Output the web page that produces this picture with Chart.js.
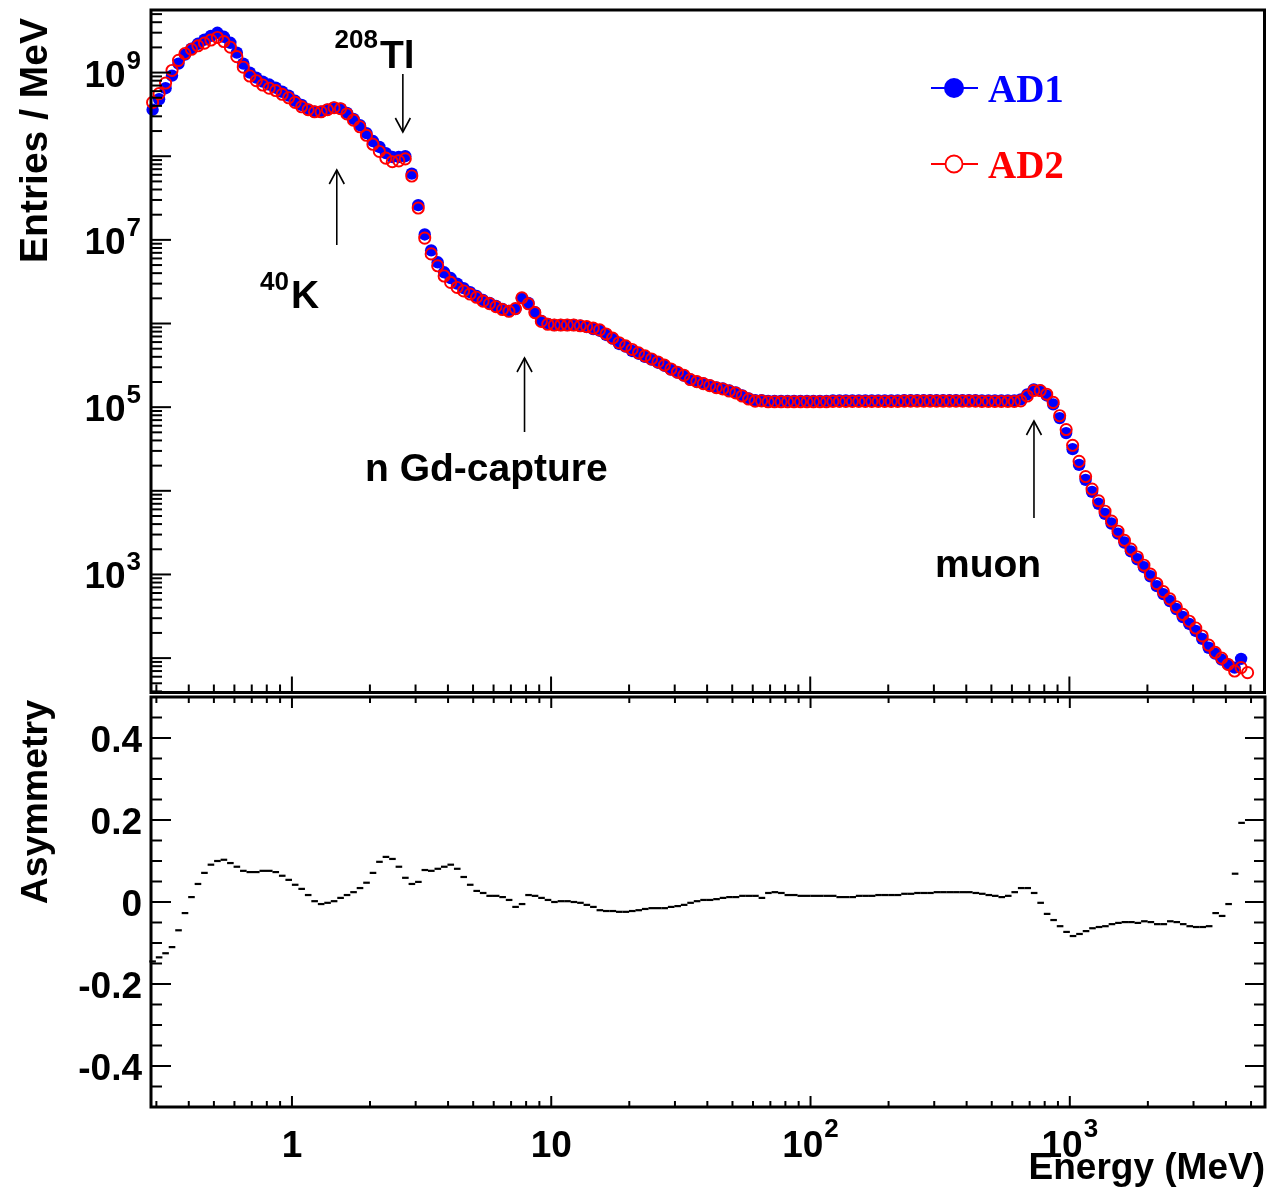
<!DOCTYPE html>
<html>
<head>
<meta charset="utf-8">
<script src="https://cdn.jsdelivr.net/npm/chart.js@4/dist/chart.umd.min.js"></script>
<style>
  body { margin: 0; background: #fff; }
  #wrap { position: relative; width: 1272px; height: 1190px; }
  canvas { position: absolute; left: 0; }
</style>
</head>
<body>
<div id="wrap">
  <canvas id="top" width="1272" height="700" style="top:0"></canvas>
  <canvas id="bot" width="1272" height="500" style="top:690px"></canvas>
</div>
<script>
// bin centres in MeV (log-spaced histogram bins)
const energy = [
  0.2901, 0.3073, 0.3255, 0.3447, 0.3652, 0.3868, 0.4097, 0.4340, 0.4597, 0.4870,
  0.5158, 0.5464, 0.5788, 0.6131, 0.6494, 0.6879, 0.7286, 0.7718, 0.8175, 0.8660,
  0.9173, 0.9716,
  1.029, 1.090, 1.155, 1.223, 1.296, 1.372, 1.454, 1.540, 1.631, 1.728,
  1.830, 1.939, 2.054, 2.175, 2.304, 2.441, 2.585, 2.738, 2.901, 3.073,
  3.255, 3.447, 3.652, 3.868, 4.097, 4.340, 4.597, 4.870, 5.158, 5.464,
  5.788, 6.131, 6.494, 6.879, 7.286, 7.718, 8.175, 8.660, 9.173, 9.716,
  10.29, 10.90, 11.55, 12.23, 12.96, 13.72, 14.54, 15.40, 16.31, 17.28,
  18.30, 19.39, 20.54, 21.75, 23.04, 24.41, 25.85, 27.38, 29.01, 30.73,
  32.55, 34.47, 36.52, 38.68, 40.97, 43.40, 45.97, 48.70, 51.58, 54.64,
  57.88, 61.31, 64.94, 68.79, 72.86, 77.18, 81.75, 86.60, 91.73, 97.16,
  102.9, 109.0, 115.5, 122.3, 129.6, 137.2, 145.4, 154.0, 163.1, 172.8,
  183.0, 193.9, 205.4, 217.5, 230.4, 244.1, 258.5, 273.8, 290.1, 307.3,
  325.5, 344.7, 365.2, 386.8, 409.7, 434.0, 459.7, 487.0, 515.8, 546.4,
  578.8, 613.1, 649.4, 687.9, 728.6, 771.8, 817.5, 866.0, 917.3, 971.6,
  1029, 1090, 1155, 1223, 1296, 1372, 1454, 1540, 1631, 1728,
  1830, 1939, 2054, 2175, 2304, 2441, 2585, 2738, 2901, 3073,
  3255, 3447, 3652, 3868, 4097, 4340, 4597, 4870
];

// entries / MeV, detector AD1
const ad1 = [
  3.6e8, 4.8e8, 6.5e8, 9.2e8, 1.28e9, 1.64e9, 1.93e9, 2.21e9, 2.47e9, 2.75e9,
  2.99e9, 2.68e9, 2.27e9, 1.73e9, 1.28e9, 1.00e9, 8.7e8, 7.8e8, 7.2e8, 6.6e8,
  5.9e8, 5.3e8, 4.6e8, 4.1e8, 3.6e8, 3.4e8, 3.4e8, 3.6e8, 3.8e8, 3.7e8,
  3.3e8, 2.8e8, 2.35e8, 1.89e8, 1.52e8, 1.29e8, 1.09e8, 9.8e7, 9.8e7, 1.0e8,
  6.2e7, 2.6e7, 1.16e7, 7.5e6, 5.4e6, 4.1e6, 3.5e6, 3.0e6, 2.65e6, 2.37e6,
  2.13e6, 1.91e6, 1.76e6, 1.62e6, 1.49e6, 1.41e6, 1.49e6, 2.01e6, 1.76e6, 1.37e6,
  1.07e6, 9.9e5, 9.6e5, 9.6e5, 9.6e5, 9.6e5, 9.4e5, 9.1e5, 8.6e5, 8.2e5,
  7.3e5, 6.6e5, 5.7e5, 5.3e5, 4.7e5, 4.36e5, 4.0e5, 3.7e5, 3.4e5, 3.13e5,
  2.81e5, 2.59e5, 2.39e5, 2.14e5, 2.02e5, 1.92e5, 1.82e5, 1.72e5, 1.67e5, 1.58e5,
  1.50e5, 1.38e5, 1.27e5, 1.21e5, 1.21e5, 1.19e5, 1.19e5, 1.19e5, 1.19e5, 1.19e5,
  1.19e5, 1.19e5, 1.19e5, 1.19e5, 1.19e5, 1.20e5, 1.20e5, 1.20e5, 1.20e5, 1.20e5,
  1.20e5, 1.20e5, 1.20e5, 1.20e5, 1.20e5, 1.20e5, 1.21e5, 1.21e5, 1.21e5, 1.21e5,
  1.21e5, 1.21e5, 1.21e5, 1.21e5, 1.21e5, 1.21e5, 1.21e5, 1.21e5, 1.20e5, 1.20e5,
  1.20e5, 1.20e5, 1.20e5, 1.20e5, 1.24e5, 1.42e5, 1.63e5, 1.58e5, 1.38e5, 1.08e5,
  7.4e4, 4.9e4, 3.15e4, 2.04e4, 1.35e4, 9.7e3, 7.0e3, 5.3e3, 4.06e3, 3.08e3,
  2.41e3, 1.89e3, 1.52e3, 1.22e3, 950, 725, 582, 481, 386, 310,
  256, 211, 170, 133, 113, 96, 84, 77, 98, null
];

// entries / MeV, detector AD2
const ad2 = [
  4.4e8, 5.6e8, 7.5e8, 1.06e9, 1.40e9, 1.69e9, 1.90e9, 2.09e9, 2.25e9, 2.45e9,
  2.63e9, 2.35e9, 2.01e9, 1.55e9, 1.16e9, 9.1e8, 8.0e8, 7.1e8, 6.5e8, 6.1e8,
  5.5e8, 5.0e8, 4.4e8, 3.9e8, 3.6e8, 3.4e8, 3.4e8, 3.6e8, 3.8e8, 3.7e8,
  3.2e8, 2.7e8, 2.25e8, 1.78e8, 1.39e8, 1.14e8, 9.5e7, 8.6e7, 8.8e7, 9.3e7,
  5.8e7, 2.4e7, 1.05e7, 6.8e6, 4.9e6, 3.7e6, 3.1e6, 2.7e6, 2.45e6, 2.25e6,
  2.06e6, 1.85e6, 1.73e6, 1.59e6, 1.47e6, 1.40e6, 1.51e6, 2.03e6, 1.72e6, 1.35e6,
  1.06e6, 9.8e5, 9.6e5, 9.6e5, 9.6e5, 9.6e5, 9.4e5, 9.2e5, 8.8e5, 8.4e5,
  7.5e5, 6.7e5, 5.9e5, 5.4e5, 4.9e5, 4.47e5, 4.1e5, 3.77e5, 3.47e5, 3.19e5,
  2.86e5, 2.62e5, 2.41e5, 2.14e5, 2.02e5, 1.91e5, 1.81e5, 1.71e5, 1.65e5, 1.56e5,
  1.48e5, 1.36e5, 1.25e5, 1.18e5, 1.19e5, 1.16e5, 1.16e5, 1.16e5, 1.16e5, 1.16e5,
  1.16e5, 1.16e5, 1.16e5, 1.16e5, 1.16e5, 1.17e5, 1.17e5, 1.17e5, 1.17e5, 1.17e5,
  1.17e5, 1.17e5, 1.17e5, 1.17e5, 1.17e5, 1.17e5, 1.18e5, 1.18e5, 1.18e5, 1.18e5,
  1.18e5, 1.18e5, 1.18e5, 1.18e5, 1.18e5, 1.18e5, 1.18e5, 1.18e5, 1.17e5, 1.17e5,
  1.17e5, 1.17e5, 1.17e5, 1.17e5, 1.19e5, 1.36e5, 1.58e5, 1.58e5, 1.43e5, 1.14e5,
  7.9e4, 5.4e4, 3.5e4, 2.25e4, 1.48e4, 1.05e4, 7.6e3, 5.7e3, 4.35e3, 3.29e3,
  2.56e3, 2.01e3, 1.62e3, 1.29e3, 1010, 776, 624, 511, 411, 333,
  276, 229, 184, 143, 117, 100, 84, 70, 77, 67
];

// asymmetry AD1 vs AD2 per bin
const asym = [
  -0.145, -0.135, -0.125, -0.110, -0.069, -0.027, 0.012, 0.044, 0.071, 0.091,
  0.100, 0.103, 0.095, 0.086, 0.076, 0.073, 0.073, 0.076, 0.076, 0.073,
  0.064, 0.054, 0.042, 0.032, 0.017, 0.002, -0.005, -0.002, 0.002, 0.010,
  0.017, 0.024, 0.034, 0.047, 0.071, 0.098, 0.110, 0.105, 0.086, 0.059,
  0.044, 0.049, 0.078, 0.076, 0.081, 0.086, 0.091, 0.081, 0.061, 0.042,
  0.027, 0.022, 0.015, 0.015, 0.012, 0.005, -0.012, -0.005, 0.017, 0.015,
  0.010, 0.005, 0.000, 0.002, 0.002, 0.000, -0.002, -0.007, -0.012, -0.020,
  -0.022, -0.022, -0.024, -0.024, -0.022, -0.020, -0.017, -0.015, -0.015, -0.015,
  -0.012, -0.010, -0.007, -0.002, 0.002, 0.005, 0.005, 0.007, 0.010, 0.012,
  0.012, 0.015, 0.015, 0.015, 0.010, 0.022, 0.024, 0.022, 0.017, 0.017,
  0.015, 0.015, 0.015, 0.015, 0.015, 0.015, 0.012, 0.012, 0.012, 0.015,
  0.015, 0.015, 0.017, 0.017, 0.017, 0.017, 0.020, 0.020, 0.022, 0.022,
  0.022, 0.024, 0.024, 0.024, 0.024, 0.024, 0.024, 0.022, 0.020, 0.017,
  0.015, 0.012, 0.015, 0.024, 0.034, 0.034, 0.022, -0.002, -0.029, -0.044,
  -0.059, -0.073, -0.083, -0.078, -0.071, -0.064, -0.061, -0.059, -0.054, -0.051,
  -0.049, -0.049, -0.051, -0.047, -0.049, -0.054, -0.054, -0.047, -0.049, -0.054,
  -0.059, -0.061, -0.061, -0.059, -0.027, -0.034, -0.005, 0.069, 0.193, null
];

// axis labels
const yDecadeLabels = [3, 5, 7, 9];
const xTickVals = [1, 10, 100, 1000];
const xTickBase = ['1', '10', '10', '10'];
const xTickSup = ['', '', '2', '3'];
const asymTicks = [-0.4, -0.2, 0, 0.2, 0.4];
const asymLabels = ['-0.4', '-0.2', '0', '0.2', '0.4'];

const X_MIN = 0.286, X_MAX = 5660;
const SANS = '"Liberation Sans", Arial, Helvetica, sans-serif';
const SERIF = '"Liberation Serif", "Times New Roman", serif';

function pts(ys) {
  return energy.map((e, i) => ({ x: e, y: ys[i] }));
}

function seg(ctx, x1, y1, x2, y2) {
  ctx.beginPath();
  ctx.moveTo(x1, y1);
  ctx.lineTo(x2, y2);
  ctx.stroke();
}

function logTicks(min, max) {
  const out = [];
  for (let e = Math.floor(Math.log10(min)); e <= Math.ceil(Math.log10(max)); e++) {
    for (let m = 1; m <= 9; m++) {
      const v = m * Math.pow(10, e);
      if (v >= min && v <= max) out.push({ v: v, major: m === 1 });
    }
  }
  return out;
}

// "base" with a raised exponent, e.g. 10^9
function supText(ctx, base, sup, x, y, align, size, supSize, rise) {
  ctx.font = 'bold ' + size + 'px ' + SANS;
  const wb = ctx.measureText(base).width;
  ctx.font = 'bold ' + supSize + 'px ' + SANS;
  const ws = sup ? ctx.measureText(sup).width + 1 : 0;
  const w = wb + ws;
  let x0 = x;
  if (align === 'right') x0 = x - w;
  if (align === 'center') x0 = x - w / 2;
  ctx.textAlign = 'left';
  ctx.textBaseline = 'alphabetic';
  ctx.font = 'bold ' + size + 'px ' + SANS;
  ctx.fillText(base, x0, y);
  if (sup) {
    ctx.font = 'bold ' + supSize + 'px ' + SANS;
    ctx.fillText(sup, x0 + wb + 1, y - rise);
  }
}

// arrow from y1 to the tip at y2
function arrow(ctx, x, y1, y2) {
  ctx.lineWidth = 1.6;
  seg(ctx, x, y1, x, y2);
  const d = y2 > y1 ? -1 : 1;
  ctx.beginPath();
  ctx.moveTo(x - 7.5, y2 + d * 14);
  ctx.lineTo(x, y2);
  ctx.lineTo(x + 7.5, y2 + d * 14);
  ctx.stroke();
}

function vTitle(ctx, text, x, y, size) {
  ctx.save();
  ctx.translate(x, y);
  ctx.rotate(-Math.PI / 2);
  ctx.font = 'bold ' + size + 'px ' + SANS;
  ctx.textAlign = 'right';
  ctx.textBaseline = 'alphabetic';
  ctx.fillText(text, 0, 0);
  ctx.restore();
}

const topDecor = {
  id: 'topDecor',
  afterDraw(chart) {
    const ctx = chart.ctx, a = chart.chartArea;
    const x = chart.scales.x, y = chart.scales.y;
    ctx.save();
    ctx.strokeStyle = '#000';
    ctx.fillStyle = '#000';

    // ticks
    ctx.lineWidth = 2;
    logTicks(y.min, y.max).forEach(t => {
      const py = y.getPixelForValue(t.v);
      seg(ctx, a.left, py, a.left + (t.major ? 20 : 11), py);
    });
    logTicks(X_MIN, X_MAX).forEach(t => {
      const px = x.getPixelForValue(t.v);
      seg(ctx, px, a.bottom, px, a.bottom - (t.major ? 16 : 8));
    });

    // frame
    ctx.lineWidth = 3;
    ctx.strokeRect(a.left, a.top, a.right - a.left, a.bottom - a.top);

    // y labels
    yDecadeLabels.forEach(e => {
      const py = y.getPixelForValue(Math.pow(10, e));
      supText(ctx, '10', String(e), 141, py + 14, 'right', 37, 26, 18);
    });
    vTitle(ctx, 'Entries / MeV', 47, 18, 39);

    // annotations
    ctx.fillStyle = '#000';
    ctx.font = 'bold 39px ' + SANS;
    ctx.textAlign = 'left';
    ctx.fillText('Tl', 380, 68);
    ctx.fillText('K', 291, 308);
    ctx.fillText('n Gd-capture', 365, 481);
    ctx.fillText('muon', 935, 577);
    ctx.font = 'bold 26px ' + SANS;
    ctx.textAlign = 'right';
    ctx.fillText('208', 378, 48);
    ctx.fillText('40', 289, 290);

    arrow(ctx, x.getPixelForValue(2.68), 74, 132);
    arrow(ctx, x.getPixelForValue(1.49), 245, 170);
    arrow(ctx, x.getPixelForValue(7.9), 432, 358);
    arrow(ctx, x.getPixelForValue(730), 518, 421);

    // legend
    ctx.lineWidth = 2;
    ctx.strokeStyle = '#0000ff';
    ctx.fillStyle = '#0000ff';
    seg(ctx, 931, 88, 978, 88);
    ctx.beginPath();
    ctx.arc(954, 88, 10, 0, Math.PI * 2);
    ctx.fill();
    ctx.font = 'bold 39px ' + SERIF;
    ctx.textAlign = 'left';
    ctx.fillText('AD1', 988, 102);

    ctx.strokeStyle = '#ff0000';
    ctx.fillStyle = '#ff0000';
    seg(ctx, 931, 164, 978, 164);
    ctx.lineWidth = 1.8;
    ctx.beginPath();
    ctx.arc(954, 164, 8.5, 0, Math.PI * 2);
    ctx.fillStyle = '#fff';
    ctx.fill();
    ctx.stroke();
    ctx.fillStyle = '#ff0000';
    ctx.fillText('AD2', 988, 178);
    ctx.restore();
  }
};

const botDecor = {
  id: 'botDecor',
  afterDraw(chart) {
    const ctx = chart.ctx, a = chart.chartArea;
    const x = chart.scales.x, y = chart.scales.y;
    ctx.save();
    ctx.strokeStyle = '#000';
    ctx.fillStyle = '#000';

    ctx.lineWidth = 2;
    for (let k = -9; k <= 9; k++) {
      const v = k * 0.05;
      const py = y.getPixelForValue(v);
      const len = (k % 4 === 0) ? 20 : 11;
      seg(ctx, a.left, py, a.left + len, py);
      seg(ctx, a.right, py, a.right - len, py);
    }
    logTicks(X_MIN, X_MAX).forEach(t => {
      const px = x.getPixelForValue(t.v);
      const len = t.major ? 11 : 6;
      seg(ctx, px, a.bottom, px, a.bottom - len);
      seg(ctx, px, a.top, px, a.top + len);
    });

    ctx.lineWidth = 3;
    ctx.strokeRect(a.left, a.top, a.right - a.left, a.bottom - a.top);

    // y labels
    ctx.font = 'bold 37px ' + SANS;
    ctx.textAlign = 'right';
    ctx.textBaseline = 'alphabetic';
    asymTicks.forEach((v, i) => {
      ctx.fillText(asymLabels[i], 142, y.getPixelForValue(v) + 14);
    });
    vTitle(ctx, 'Asymmetry', 47, a.top + 3, 37.5);

    // x labels
    xTickVals.forEach((v, i) => {
      supText(ctx, xTickBase[i], xTickSup[i], x.getPixelForValue(v), a.bottom + 50, 'center', 37, 26, 20);
    });
    ctx.font = 'bold 37px ' + SANS;
    ctx.textAlign = 'right';
    ctx.fillText('Energy (MeV)', a.right, a.bottom + 72);
    ctx.restore();
  }
};

const common = {
  responsive: false,
  animation: false,
  devicePixelRatio: 1,
  events: [],
  plugins: { legend: { display: false }, tooltip: { enabled: false } }
};

new Chart(document.getElementById('top'), {
  type: 'scatter',
  data: {
    datasets: [
      {
        label: 'AD1',
        data: pts(ad1),
        pointStyle: 'circle',
        pointRadius: 6.2,
        pointBackgroundColor: '#0000ff',
        pointBorderColor: '#0000ff',
        pointBorderWidth: 0,
        order: 2,
        clip: false
      },
      {
        label: 'AD2',
        data: pts(ad2),
        pointStyle: 'circle',
        pointRadius: 5.6,
        pointBackgroundColor: 'rgba(0,0,0,0)',
        pointBorderColor: '#ff0000',
        pointBorderWidth: 1.9,
        order: 1,
        clip: false
      }
    ]
  },
  options: Object.assign({}, common, {
    layout: { padding: { left: 151, right: 7, top: 10, bottom: 3 } },
    scales: {
      x: { type: 'logarithmic', min: X_MIN, max: X_MAX, display: false },
      y: { type: 'logarithmic', min: 38.8, max: 5.6e9, display: false }
    }
  }),
  plugins: [topDecor]
});

new Chart(document.getElementById('bot'), {
  type: 'scatter',
  data: {
    datasets: [{
      label: 'Asymmetry',
      data: pts(asym),
      pointStyle: 'line',
      pointRadius: 3.3,
      pointBorderColor: '#000',
      pointBorderWidth: 2.2,
      clip: false
    }]
  },
  options: Object.assign({}, common, {
    layout: { padding: { left: 151, right: 7, top: 7, bottom: 83 } },
    scales: {
      x: { type: 'logarithmic', min: X_MIN, max: X_MAX, display: false },
      y: { type: 'linear', min: -0.5, max: 0.5, display: false }
    }
  }),
  plugins: [botDecor]
});
</script>
</body>
</html>
